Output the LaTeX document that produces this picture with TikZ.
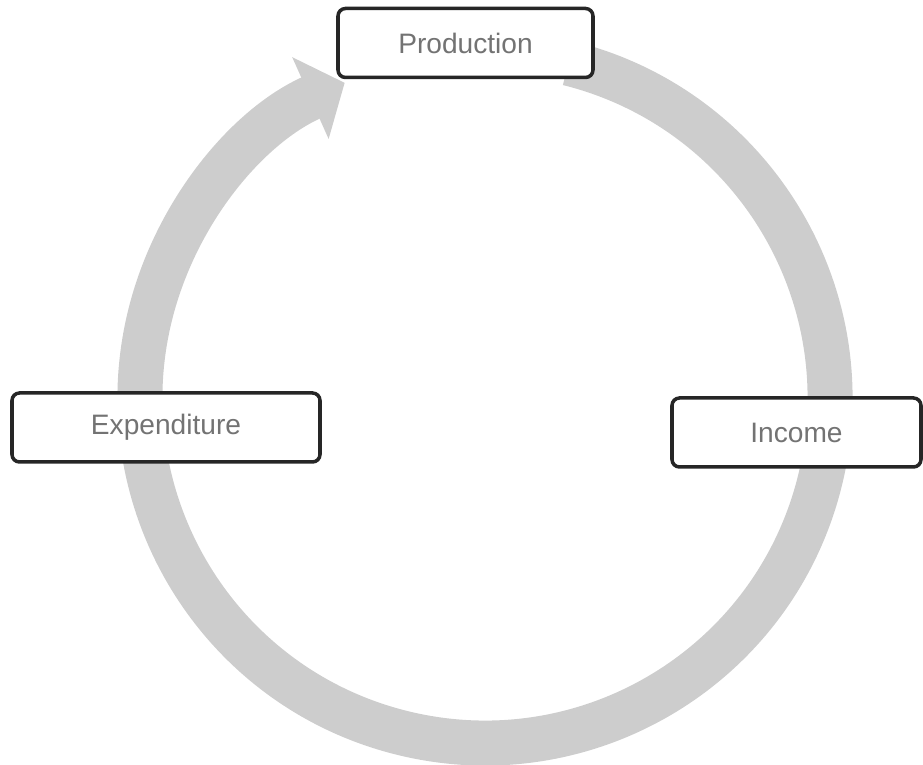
\documentclass[tikz,border=0pt]{standalone}
\usepackage{fontspec}
\setsansfont{Liberation Sans}
\usepackage{tikz}
\usetikzlibrary{arrows.meta}
\usetikzlibrary{calc}
\definecolor{ringgray}{HTML}{CDCDCD}

\begin{document}
\begin{tikzpicture}
    \tikzstyle{flow} = [line width=0.9cm,draw=ringgray,-{Triangle[width=1.75cm,length=0.75cm]}]
    \tikzstyle{sbox}=[
      rectangle,
      rounded corners=0.15cm,
      draw=black!85,
      line width=2pt,
      fill=white,
      anchor=center,
      minimum height=1.38cm,
      font=\sffamily\fontsize{16}{19}\selectfont,
      text=black!55,
    ]
    \useasboundingbox (0,0) rectangle (18.46,15.3);

    {
      \coordinate (c) at (9.70,7.34);
    }

    {
      \draw[flow] ($(c)+(76:6.9)$) arc[start angle=76,end angle=-246,radius=6.9];
    }

    {
      \node[sbox,minimum width=5.1cm] (nprod) at (9.31,14.44) {Production};
      \node[sbox,minimum width=4.98cm] (ninc) at (15.93,6.65) {Income};
      \node[sbox,minimum width=6.16cm] (nexp) at (3.32,6.75) {Expenditure};
    }
\end{tikzpicture}
\end{document}
